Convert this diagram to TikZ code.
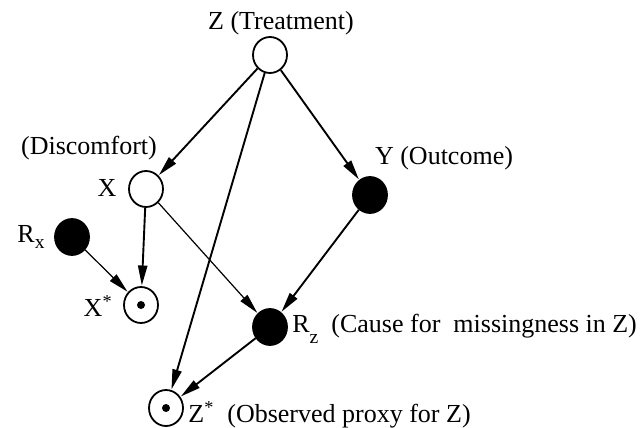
\documentclass[tikz,border=0pt]{standalone}
\usepackage{fontspec}
\setmainfont{Liberation Serif}
\usepackage{tikz}
\usetikzlibrary{shapes.geometric}
\usetikzlibrary{arrows.meta, positioning}
\newcommand{\lowsub}[2][0.25em]{\raisebox{-#1}{\fontsize{9.8}{10}\selectfont #2}}

\begin{document}
\begin{tikzpicture}[x=0.5pt, y=-0.5pt,
    every node/.style={font=\fontsize{13}{15}\selectfont},
    var/.style={ellipse, draw, line width=0.9pt, minimum width=17pt, minimum height=18pt, inner sep=0pt},
    latent/.style={var, fill=black},
    proxy/.style={var, path picture={\fill (path picture bounding box.center) circle (2pt);}},
    link/.style={-{Triangle[length=10pt, width=4.6pt]}, line width=0.95pt, shorten >=0.3pt},
    thinlink/.style={link, line width=0.6pt}]
            \useasboundingbox (0,0) rectangle (643,428);

            % Draw the variables
            \node[var] (Z) at (270,55) {};
            \node[var] (X) at (146,189) {};
            \node[latent] (Y) at (370,195) {};
            \node[latent] (Rx) at (72,237) {};
            \node[proxy] (Xs) at (141,305) {};
            \node[latent] (Rz) at (270,327) {};
            \node[proxy] (Zs) at (166,408) {};

            % Labels
            \node (Zlab) at (281,23) {Z (Treatment)};
            \node (Dlab) at (89,148) {(Discomfort)};
            \node (Xlab) at (107,188) {X};
            \node (Ylab) at (444,158) {Y (Outcome)};
            \node[anchor=base east, inner sep=0pt] (Rxlab) at (45,242) {R\lowsub{x}};
            \node[anchor=base east, inner sep=0pt] (Xslab) at (113,316) {X\textsuperscript{*}};
            \node[anchor=base west, inner sep=0pt] (Rzlab) at (292,332) {R\lowsub[0.45em]{z}\ \ (Cause for\ \ missingness in Z)};
            \node[anchor=base west, inner sep=0pt] (Zslab) at (188,422) {Z\textsuperscript{*}\ \ (Observed proxy for Z)};

            % Draw the arrows
            \draw[link] (Z) -- (X);
            \draw[link] (Z) -- (Y);
            \draw[link] (Z) -- (Zs);
            \draw[link] (X) -- (Xs);
            \draw[thinlink] (X) -- (Rz);
            \draw[link] (Y) -- (Rz);
            \draw[thinlink] (Rx) -- (Xs);
            \draw[link] (Rz) -- (Zs);
        \end{tikzpicture}
\end{document}
